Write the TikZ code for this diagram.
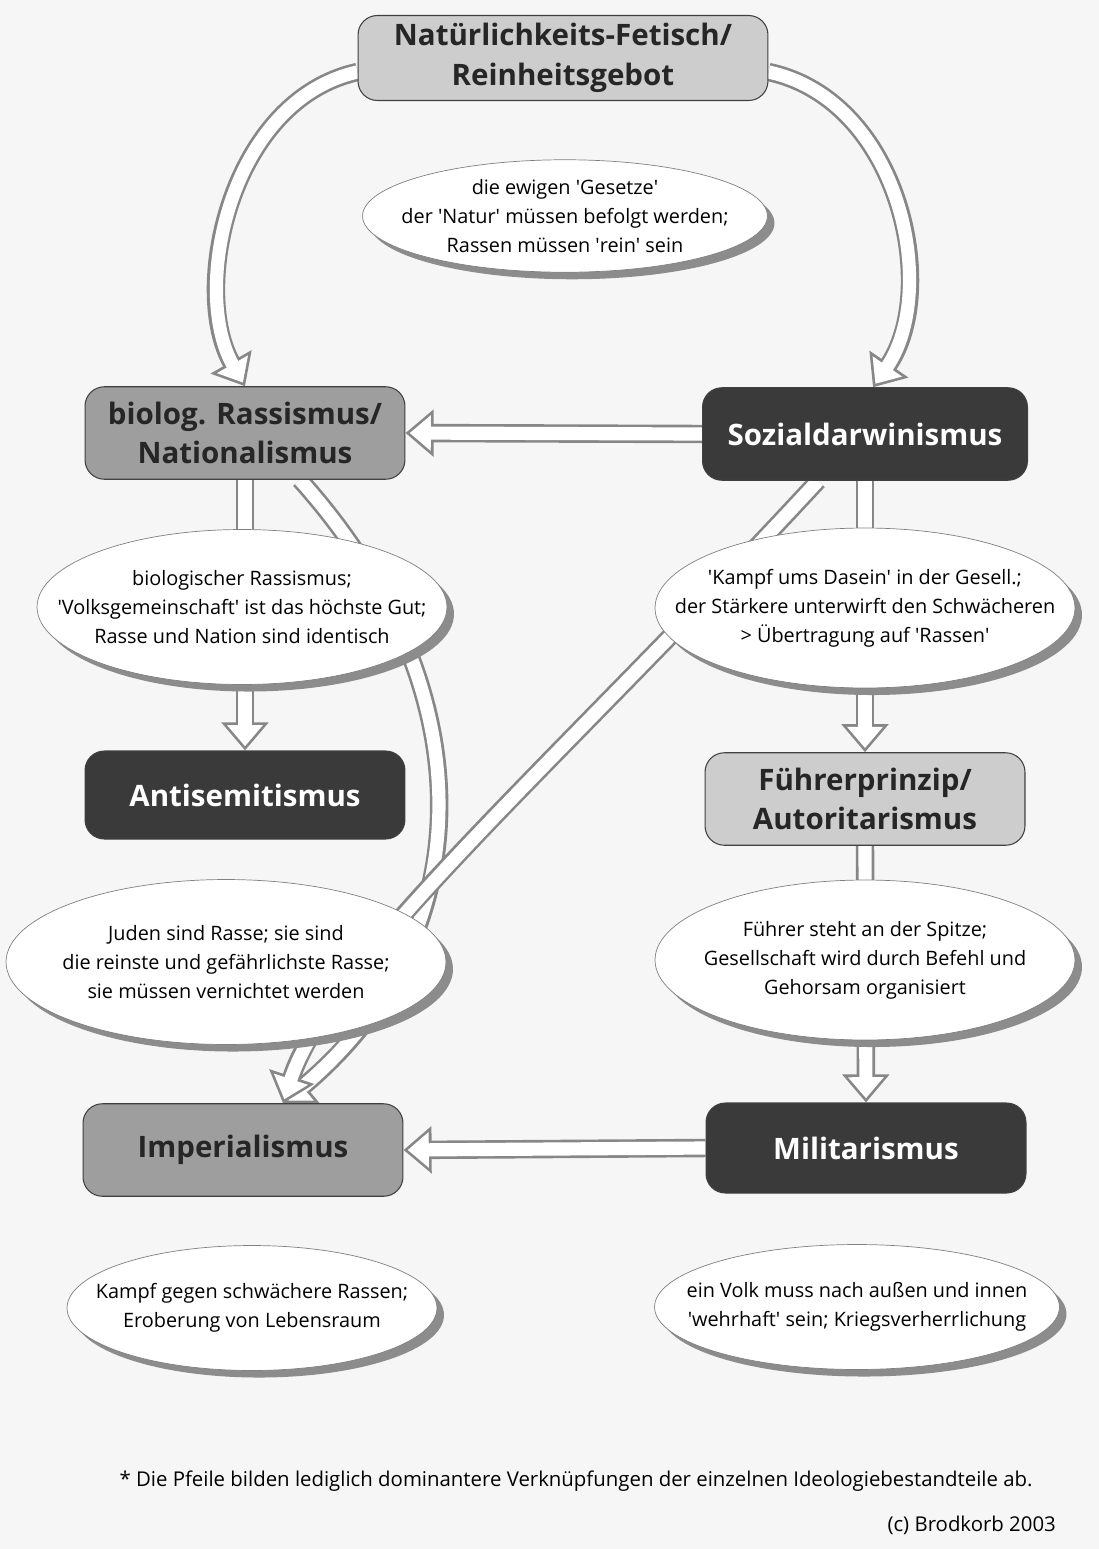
\documentclass[tikz,border=0pt]{standalone}
\usepackage{fontspec}
\setmainfont{Open Sans}
\usetikzlibrary{arrows.meta,shapes.geometric,shadows,calc}
\definecolor{boxlight}{RGB}{205,205,205}
\definecolor{boxmid}{RGB}{158,158,158}
\definecolor{boxdark}{RGB}{58,58,58}
\definecolor{arrowgray}{RGB}{135,135,135}
\definecolor{paper}{RGB}{246,246,246}
\newcommand{\sq}{\textquotesingle}
\pgfdeclarelayer{bg}
\pgfsetlayers{bg,main}

\begin{document}
\begin{tikzpicture}[x=0.02cm,y=-0.02cm,
  box/.style={rectangle,rounded corners=11pt,draw=black!75,line width=0.6pt,minimum width=6.4cm,minimum height=1.85cm,align=center,font=\bfseries\fontsize{16.8}{22.5}\selectfont,text=black!85},
  darkbox/.style={box,fill=boxdark,text=white},
  note/.style={ellipse,draw=black!50,line width=0.4pt,fill=white,inner sep=0pt,drop shadow={shadow xshift=4pt,shadow yshift=-4pt,fill=black!45,opacity=1}},
  notetext/.style={align=center,inner sep=0pt,font=\fontsize{11.3}{16.5}\selectfont},
  fat/.style={line width=7.5pt,white,shorten >=2.4pt,-{Triangle[length=12pt,width=19.6pt]},
    preaction={draw,arrowgray,line width=10.5pt,shorten >=0pt,-{Triangle[length=16pt,width=26pt]}}}]
\useasboundingbox (0,0) rectangle (1099,1549);
\draw (563, 58) node[box,fill=boxlight,minimum width=8.2cm,minimum height=1.7cm](fetisch) {Natürlichkeits-Fetisch/\\Reinheitsgebot};
\draw (565, 216) node[note,minimum width=8.1cm,minimum height=2.25cm](gesetze) {};
\draw (gesetze) node[notetext](gesetzetext) {die ewigen \sq Gesetze\sq\\der \sq Natur\sq\ müssen befolgt werden;\\Rassen müssen \sq rein\sq\ sein};
\draw (245, 433) node[box,fill=boxmid](rassismus) {biolog. Rassismus/\\Nationalismus};
\draw (865, 434) node[darkbox,minimum width=6.5cm](sozial) {Sozialdarwinismus};
\draw (242, 607) node[note,minimum width=8.2cm,minimum height=3.1cm](biolog) {};
\draw (biolog) node[notetext](biologtext) {biologischer Rassismus;\\\sq Volksgemeinschaft\sq\ ist das höchste Gut;\\Rasse und Nation sind identisch};
\draw (865, 608) node[note,minimum width=8.4cm,minimum height=3.2cm](kampf) {};
\draw (kampf) node[notetext](kampftext) {\sq Kampf ums Dasein\sq\ in der Gesell.;\\der Stärkere unterwirft den Schwächeren\\> Übertragung auf \sq Rassen\sq};
\draw (245, 795) node[darkbox,minimum height=1.76cm](antisem) {Antisemitismus};
\draw (865, 799) node[box,fill=boxlight](fuehrer) {Führerprinzip/\\Autoritarismus};
\draw (226, 962) node[note,minimum width=8.8cm,minimum height=3.3cm](juden) {};
\draw (juden) node[notetext](judentext) {Juden sind Rasse; sie sind\\die reinste und gefährlichste Rasse;\\sie müssen vernichtet werden};
\draw (865, 960) node[note,minimum width=8.4cm,minimum height=3.2cm](spitze) {};
\draw (spitze) node[notetext](spitzetext) {Führer steht an der Spitze;\\Gesellschaft wird durch Befehl und\\Gehorsam organisiert};
\draw (243, 1150) node[box,fill=boxmid](imperial) {Imperialismus};
\draw (866, 1148) node[darkbox,minimum height=1.8cm](militar) {Militarismus};
\draw (252, 1308) node[note,minimum width=7.4cm,minimum height=2.5cm](lebensraum) {};
\draw (lebensraum) node[notetext](lebensraumtext) {Kampf gegen schwächere Rassen;\\Eroberung von Lebensraum};
\draw (857, 1307) node[note,minimum width=8.1cm,minimum height=2.5cm](wehrhaft) {};
\draw (wehrhaft) node[notetext](wehrhafttext) {ein Volk muss nach außen und innen\\\sq wehrhaft\sq\ sein; Kriegsverherrlichung};
\draw (576, 1481) node[font=\fontsize{11.6}{14}\selectfont](fussnote) {* Die Pfeile bilden lediglich dominantere Verknüpfungen der einzelnen Ideologiebestandteile ab.};
\draw (1062, 1525) node[anchor=east,font=\fontsize{11.6}{14}\selectfont](quelle) {(c) Brodkorb 2003};
\begin{pgfonlayer}{bg}
\fill[paper] (0,0) rectangle (1099,1549);
\draw[fat] ($(fetisch.west)+(0,14)$) .. controls (230,100) and (190,290) .. (rassismus.north);
\draw[fat] ($(fetisch.east)+(0,14)$) .. controls (900,100) and (940,290) .. ($(sozial.north)+(8,0)$);
\draw[fat] (sozial.west) -- (rassismus.east);
\draw[fat] (rassismus.south) -- (antisem.north);
\draw[fat] (sozial.south) -- (fuehrer.north);
\draw[fat] (fuehrer.south) -- (militar.north);
\draw[fat] (militar.west) -- (imperial.east);
\draw[fat] ($(rassismus.south)+(55,0)$) .. controls (480,680) and (490,930) .. ($(imperial.north)+(40,0)$);
\draw[fat] ($(sozial.south)+(-47,0)$) .. controls (560,760) and (330,960) .. ($(imperial.north)+(40,0)$);
\end{pgfonlayer}
\end{tikzpicture}
\end{document}
